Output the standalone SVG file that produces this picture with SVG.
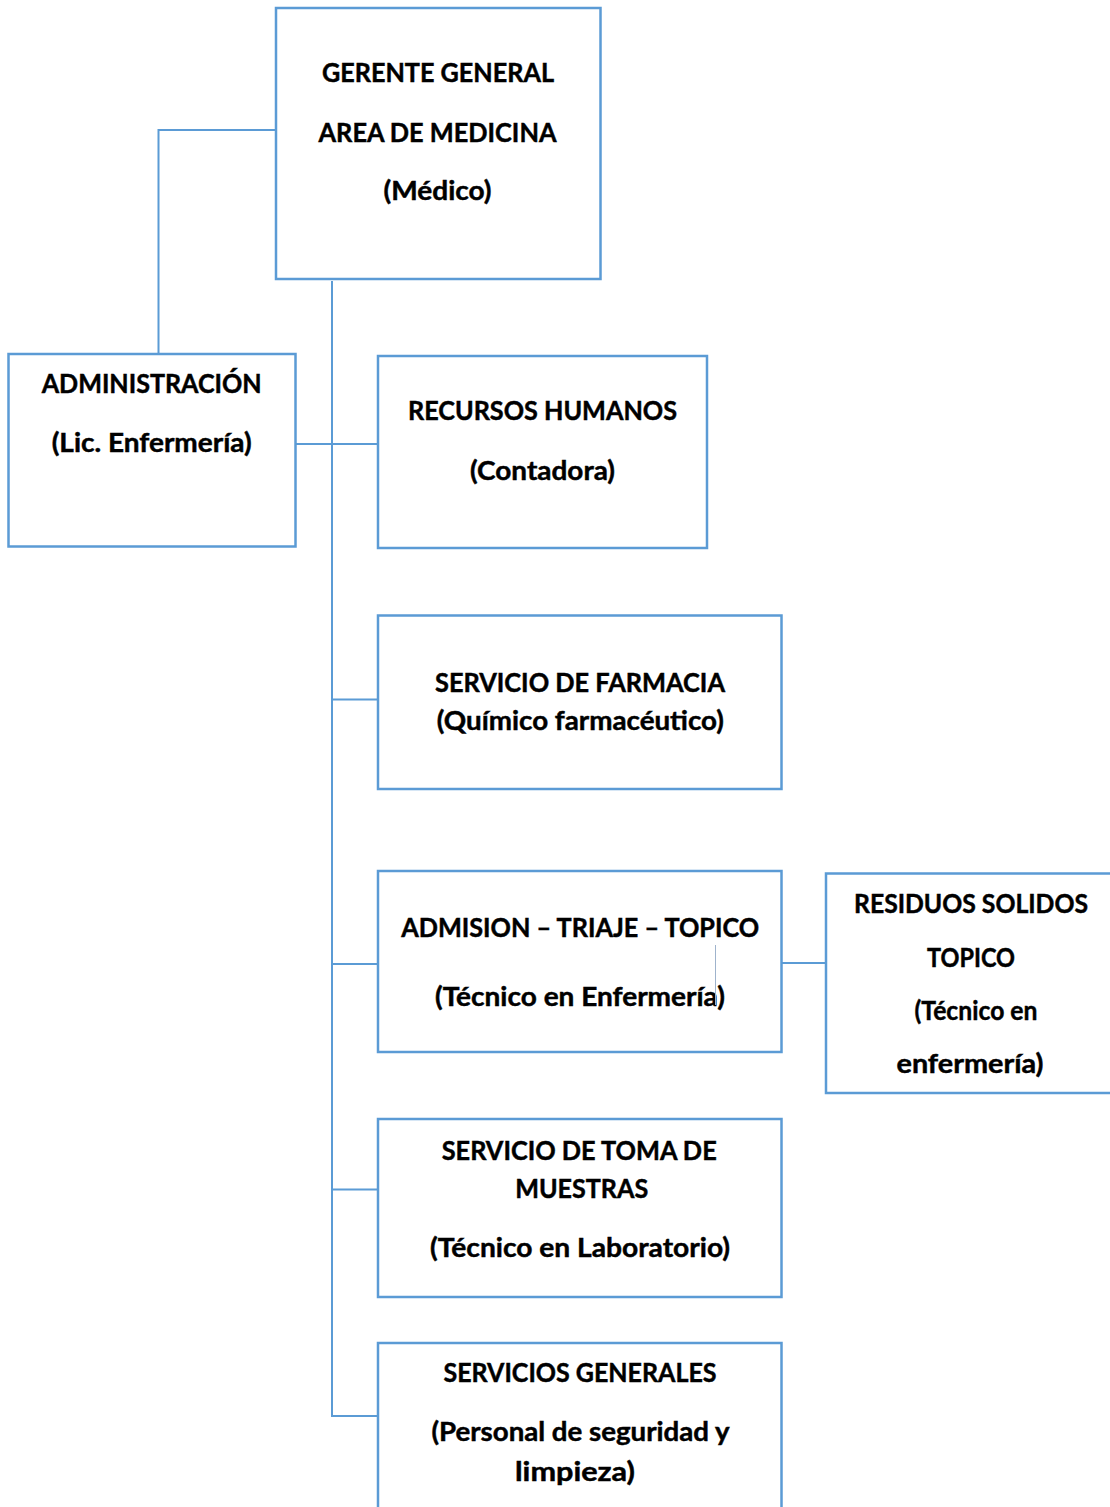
<svg xmlns="http://www.w3.org/2000/svg" width="1110" height="1507" viewBox="0 0 1110 1507">
<style>
.box{fill:#fff;stroke:#5b9bd5;stroke-width:2.5}
.con{fill:none;stroke:#5b9bd5;stroke-width:2}
text{font-family:Lato,"Liberation Sans",sans-serif;font-weight:bold;font-size:26px;fill:#000;stroke:#000;stroke-width:0.45;text-anchor:middle}
</style>
<rect width="1110" height="1507" fill="#fff"/>
<g id="connectors">
<path class="con" d="M276 130H158.5V354"/>
<path class="con" d="M332 281V1416H377"/>
<path class="con" d="M296 444H378"/>
<path class="con" d="M332 699.5H378"/>
<path class="con" d="M332 964H378"/>
<path class="con" d="M782 963H826"/>
<path class="con" d="M332 1189.5H378"/>
</g>
<g id="gerente">
<rect class="box" x="276" y="8" width="324.5" height="271"/>
<text x="438" y="82" textLength="232" lengthAdjust="spacingAndGlyphs">GERENTE GENERAL</text>
<text x="437.5" y="142" textLength="238" lengthAdjust="spacingAndGlyphs">AREA DE MEDICINA</text>
<text x="437.5" y="200" textLength="108" lengthAdjust="spacingAndGlyphs">(Médico)</text>
</g>
<g id="administracion">
<rect class="box" x="8.5" y="354" width="287" height="192.5"/>
<text x="151.7" y="393" textLength="220" lengthAdjust="spacingAndGlyphs">ADMINISTRACIÓN</text>
<text x="151.7" y="452" textLength="200" lengthAdjust="spacingAndGlyphs">(Lic. Enfermería)</text>
</g>
<g id="rrhh">
<rect class="box" x="378" y="356" width="329" height="192"/>
<text x="542.5" y="420" textLength="269" lengthAdjust="spacingAndGlyphs">RECURSOS HUMANOS</text>
<text x="542.5" y="480" textLength="145" lengthAdjust="spacingAndGlyphs">(Contadora)</text>
</g>
<g id="farmacia">
<rect class="box" x="378" y="615.5" width="403.5" height="173.5"/>
<text x="580" y="692" textLength="290" lengthAdjust="spacingAndGlyphs">SERVICIO DE FARMACIA</text>
<text x="580.3" y="730" textLength="287" lengthAdjust="spacingAndGlyphs">(Químico farmacéutico)</text>
</g>
<g id="admision">
<rect class="box" x="378" y="871" width="403.5" height="181"/>
<text x="580.2" y="937" textLength="358" lengthAdjust="spacingAndGlyphs">ADMISION – TRIAJE – TOPICO</text>
<text x="580" y="1006" textLength="290" lengthAdjust="spacingAndGlyphs">(Técnico en Enfermería)</text>
<line x1="715.5" y1="945" x2="715.5" y2="1005" stroke="#9fb3cc" stroke-width="1"/>
</g>
<g id="residuos">
<rect class="box" x="826" y="873.5" width="300" height="219.5"/>
<text x="971" y="913" textLength="234" lengthAdjust="spacingAndGlyphs">RESIDUOS SOLIDOS</text>
<text x="971" y="967" textLength="88" lengthAdjust="spacingAndGlyphs">TOPICO</text>
<text x="976" y="1020" textLength="123" lengthAdjust="spacingAndGlyphs">(Técnico en</text>
<text x="970" y="1073" textLength="147" lengthAdjust="spacingAndGlyphs">enfermería)</text>
</g>
<g id="muestras">
<rect class="box" x="378" y="1119" width="403.5" height="178"/>
<text x="579.2" y="1160" textLength="275" lengthAdjust="spacingAndGlyphs">SERVICIO DE TOMA DE</text>
<text x="581.7" y="1198" textLength="133" lengthAdjust="spacingAndGlyphs">MUESTRAS</text>
<text x="580" y="1257" textLength="300" lengthAdjust="spacingAndGlyphs">(Técnico en Laboratorio)</text>
</g>
<g id="generales">
<rect class="box" x="378" y="1343" width="403.5" height="200"/>
<text x="580" y="1382" textLength="273" lengthAdjust="spacingAndGlyphs">SERVICIOS GENERALES</text>
<text x="580.5" y="1441" textLength="298" lengthAdjust="spacingAndGlyphs">(Personal de seguridad y</text>
<text x="575" y="1481" textLength="120" lengthAdjust="spacingAndGlyphs">limpieza)</text>
</g>
</svg>
